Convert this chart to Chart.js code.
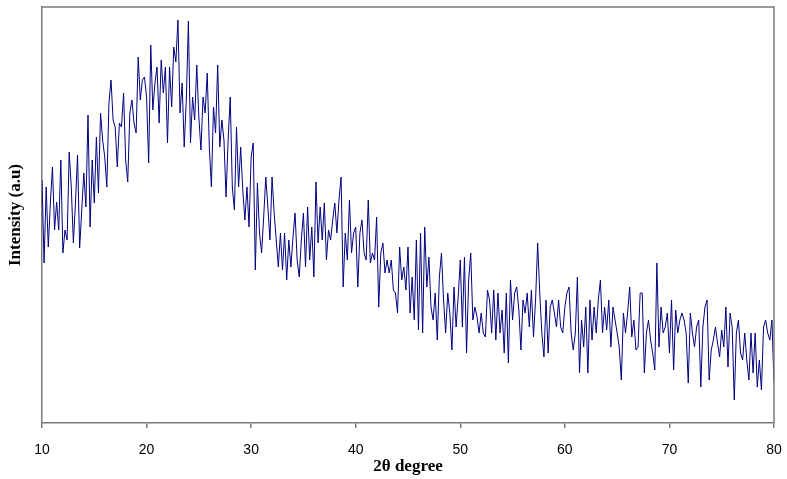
<!DOCTYPE html>
<html>
<head>
<meta charset="utf-8">
<title>XRD pattern</title>
<script src="https://cdn.jsdelivr.net/npm/chart.js@4.4.1/dist/chart.umd.min.js"></script>
<style>
    html, body { margin: 0; padding: 0; background: #fff; }
    #wrap { width: 787px; height: 479px; }
</style>
</head>
<body>
<div id="wrap"><canvas id="xrdChart" width="787" height="479"></canvas></div>
<script>
// Scan settings (2-theta, degrees)
const startAngle = 10;
const stepAngle = 0.2;
const xTicks = [10, 20, 30, 40, 50, 60, 70, 80];

// Intensity (a.u.), one value per step, 10.0 -> 80.0
const intensity10to21 = [
    243, 160, 236, 176, 220, 256, 193, 221, 193, 263, 170, 193, 183, 271, 236, 180, 220, 268, 175, 213,
    250, 216, 308, 196, 263, 220, 286, 230, 310, 283, 266, 236, 320, 343, 303, 296, 256, 300, 296, 330,
    263, 241, 310, 323, 300, 290, 366, 323, 343, 346, 326, 260, 378, 313, 340, 356, 300
];
const intensity21to33 = [
    363, 330, 356, 280, 356, 316, 376, 361, 403, 310, 340, 276, 323, 402, 280, 326, 303, 358, 306, 273,
    326, 310, 350, 276, 236, 316, 290, 358, 276, 303, 283, 226, 283, 326, 236, 213, 296, 236, 276, 233,
    203, 236, 196, 266, 280, 153, 240, 190, 170, 206, 246, 216, 183, 246, 210, 183, 156
];
const intensity33to44 = [
    190, 153, 190, 143, 183, 156, 186, 210, 163, 146, 183, 210, 156, 216, 163, 196, 146, 241, 180, 216,
    183, 220, 163, 193, 183, 203, 220, 190, 223, 246, 136, 190, 163, 223, 170, 190, 196, 136, 190, 203,
    170, 163, 223, 160, 170, 163, 206, 116, 170, 180, 150, 163, 150, 163, 133, 130, 110, 176
];
const intensity44to56 = [
    143, 156, 133, 176, 110, 146, 103, 183, 93, 190, 90, 196, 136, 166, 116, 103, 130, 83, 146, 170,
    123, 90, 130, 110, 73, 136, 96, 126, 163, 96, 166, 70, 143, 170, 103, 116, 106, 90, 110, 90,
    86, 133, 123, 90, 133, 83, 130, 90, 113, 70, 130, 60, 143, 103, 130, 136, 113
];
const intensity56to67 = [
    73, 123, 110, 130, 96, 133, 86, 123, 180, 130, 90, 66, 123, 70, 116, 123, 110, 96, 123, 96,
    90, 116, 130, 136, 90, 73, 90, 146, 50, 103, 76, 116, 50, 123, 83, 116, 90, 123, 143, 90,
    116, 93, 123, 76, 116, 103, 90, 76, 43, 110, 90, 110, 136, 86, 103, 73, 76, 130
];
const intensity67to80 = [
    130, 50, 90, 103, 83, 70, 53, 160, 76, 116, 90, 96, 110, 70, 123, 53, 113, 90, 103, 110,
    103, 90, 40, 110, 90, 76, 96, 103, 36, 96, 116, 123, 43, 73, 83, 96, 80, 66, 93, 76,
    116, 56, 110, 96, 23, 90, 103, 70, 63, 90, 63, 43, 90, 50, 90, 36, 63, 33, 96, 103,
    90, 83, 103, 40
];

const intensity = [].concat(intensity10to21, intensity21to33, intensity33to44,
    intensity44to56, intensity56to67, intensity67to80);

const points = intensity.map((v, i) => ({
    x: Math.round((startAngle + i * stepAngle) * 10) / 10,
    y: v
}));

const frameColor = '#7a7a7a';

// top and right sides of the plot box
const frameBox = {
    id: 'frameBox',
    afterDraw(chart) {
        const { ctx, chartArea } = chart;
        ctx.save();
        ctx.strokeStyle = frameColor;
        ctx.lineWidth = 1.5;
        ctx.beginPath();
        ctx.moveTo(chartArea.left, chartArea.top);
        ctx.lineTo(chartArea.right, chartArea.top);
        ctx.lineTo(chartArea.right, chartArea.bottom);
        ctx.stroke();
        ctx.restore();
    }
};

const ctx = document.getElementById('xrdChart').getContext('2d');
const xrdChart = new Chart(ctx, {
    type: 'line',
    data: {
        datasets: [{
            label: 'XRD',
            data: points,
            borderColor: '#000080',
            borderWidth: 1,
            pointRadius: 0,
            tension: 0,
            fill: false
        }]
    },
    options: {
        responsive: false,
        animation: false,
        layout: { padding: { top: 7, right: 13, left: 0, bottom: 0 } },
        plugins: {
            legend: { display: false },
            tooltip: { enabled: false }
        },
        scales: {
            x: {
                type: 'linear',
                min: 10,
                max: 80,
                afterFit: function(scale) {
                    scale.height = 56;
                    scale.paddingLeft = 0;
                    scale.paddingRight = 0;
                },
                afterBuildTicks: function(scale) {
                    scale.ticks = xTicks.map(v => ({ value: v }));
                },
                ticks: {
                    color: '#000',
                    padding: 14,
                    maxRotation: 0,
                    font: { family: 'Liberation Sans, Arial, sans-serif', size: 14 }
                },
                grid: {
                    drawOnChartArea: false,
                    drawTicks: true,
                    tickLength: 5,
                    color: frameColor,
                    lineWidth: 1.5
                },
                border: { color: frameColor, width: 1.5 },
                title: {
                    display: true,
                    text: '2θ degree',
                    color: '#000',
                    padding: { top: 0, bottom: 2 },
                    font: { family: 'Liberation Serif, Times New Roman, serif', size: 17, weight: 'bold' }
                }
            },
            y: {
                min: 0,
                max: 416,
                afterFit: function(scale) { scale.width = 42; },
                ticks: { display: false },
                grid: { display: false, drawTicks: false },
                border: { color: frameColor, width: 1.5 },
                title: {
                    display: true,
                    text: 'Intensity (a.u)',
                    color: '#000',
                    padding: { top: 5, bottom: 0 },
                    font: { family: 'Liberation Serif, Times New Roman, serif', size: 17, weight: 'bold' }
                }
            }
        }
    },
    plugins: [frameBox]
});
</script>
</body>
</html>
